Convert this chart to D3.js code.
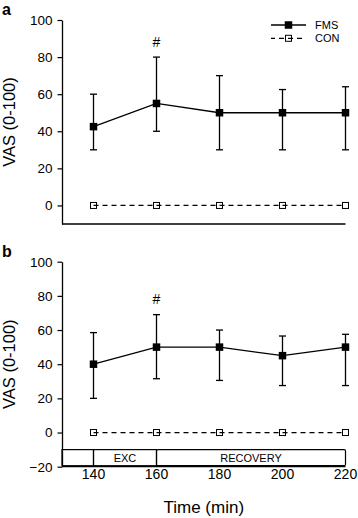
<!DOCTYPE html>
<html>
<head>
<meta charset="utf-8">
<script src="https://cdn.jsdelivr.net/npm/d3@7"></script>
<style>
  body { margin: 0; background: #fff; }
  svg { display: block; font-family: "Liberation Sans", Arial, sans-serif; }
</style>
</head>
<body>
<svg id="chart"></svg>
<script>
// Data
let times = [140, 160, 180, 200, 220];
let fmsA = [42.5, 55, 50, 50, 50];
let fmsALow = [30, 40, 30, 30, 30];
let fmsAHigh = [60, 80, 70, 62.5, 64];
let conA = [0, 0, 0, 0, 0];
let fmsB = [40, 50, 50, 45, 50];
let fmsBLow = [20, 31.5, 30.5, 27.5, 27.5];
let fmsBHigh = [58.5, 69, 60, 56.5, 57.5];
let conB = [0, 0, 0, 0, 0];
let xTicks = [140, 160, 180, 200, 220];
let phases = [{name: "", from: 130, to: 140}, {name: "EXC", from: 140, to: 160}, {name: "RECOVERY", from: 160, to: 220}];

let width = 358, height = 518;
let svg = d3.select("#chart").attr("width", width).attr("height", height);

let xax = d3.scaleLinear().domain([130, 220]).range([62, 345.5]);

function drawPanel(label, yax, yTicks, fms, lo, hi, con, labelY, hashY) {
  let g = svg.append("g");
  let y0 = yax.range()[0], y1 = yax.range()[1];

  // y axis
  g.append("g")
    .attr("transform", `translate(${xax.range()[0]}, 0)`)
    .call(d3.axisLeft(yax).tickValues(yTicks).tickSize(4.5).tickPadding(5).tickSizeOuter(0))
    .call(a => a.select(".domain").attr("stroke-width", 1.3))
    .call(a => a.selectAll(".tick line").attr("stroke-width", 1.2))
    .call(a => a.selectAll("text").attr("font-size", 13.5).attr("fill", "#000")
      .attr("font-family", "Liberation Sans, Arial, sans-serif"));

  // x axis line
  g.append("line")
    .attr("x1", xax.range()[0]).attr("x2", xax.range()[1])
    .attr("y1", y0).attr("y2", y0)
    .attr("stroke", "#000").attr("stroke-width", 1.3);

  // y axis title
  g.append("text")
    .attr("transform", "rotate(-90)")
    .attr("x", -(y0 + y1) / 2)
    .attr("y", 14.5)
    .attr("text-anchor", "middle")
    .attr("font-size", 16.5)
    .text("VAS (0-100)");

  // panel letter
  g.append("text")
    .attr("x", 2).attr("y", labelY)
    .attr("font-size", 16).attr("font-weight", "bold")
    .text(label);

  // CON dashed line
  let line = d3.line().x((d, i) => xax(times[i])).y(d => yax(d));
  g.append("path")
    .attr("d", line(con))
    .attr("fill", "none").attr("stroke", "#000")
    .attr("stroke-width", 1.3).attr("stroke-dasharray", "5,4");

  g.append("g").selectAll("rect")
    .data(con)
    .join("rect")
      .attr("x", (d, i) => xax(times[i]) - 3)
      .attr("y", d => yax(d) - 3)
      .attr("width", 6).attr("height", 6)
      .attr("fill", "none").attr("stroke", "#000").attr("stroke-width", 1);

  // FMS error bars
  let eb = g.append("g").attr("stroke", "#000").attr("stroke-width", 1.3);
  eb.selectAll("line.v")
    .data(fms)
    .join("line")
      .attr("class", "v")
      .attr("x1", (d, i) => xax(times[i])).attr("x2", (d, i) => xax(times[i]))
      .attr("y1", (d, i) => yax(lo[i])).attr("y2", (d, i) => yax(hi[i]));
  eb.selectAll("line.lo")
    .data(fms)
    .join("line")
      .attr("class", "lo")
      .attr("x1", (d, i) => xax(times[i]) - 3.5).attr("x2", (d, i) => xax(times[i]) + 3.5)
      .attr("y1", (d, i) => yax(lo[i])).attr("y2", (d, i) => yax(lo[i]));
  eb.selectAll("line.hi")
    .data(fms)
    .join("line")
      .attr("class", "hi")
      .attr("x1", (d, i) => xax(times[i]) - 3.5).attr("x2", (d, i) => xax(times[i]) + 3.5)
      .attr("y1", (d, i) => yax(hi[i])).attr("y2", (d, i) => yax(hi[i]));

  // FMS line + markers
  g.append("path")
    .attr("d", line(fms))
    .attr("fill", "none").attr("stroke", "#000").attr("stroke-width", 1.3);
  g.append("g").selectAll("rect")
    .data(fms)
    .join("rect")
      .attr("x", (d, i) => xax(times[i]) - 3.75)
      .attr("y", d => yax(d) - 3.75)
      .attr("width", 7.5).attr("height", 7.5)
      .attr("fill", "#000");

  // significance mark
  g.append("text")
    .attr("x", xax(160)).attr("y", hashY)
    .attr("text-anchor", "middle")
    .attr("font-size", 14)
    .text("#");

  return g;
}

// Panel a
let yA = d3.scaleLinear().domain([-10, 100]).range([224, 20]);
drawPanel("a", yA, [0, 20, 40, 60, 80, 100], fmsA, fmsALow, fmsAHigh, conA, 14.5, 46.5);

// legend
let leg = svg.append("g");
leg.append("line").attr("x1", 271).attr("x2", 306).attr("y1", 25).attr("y2", 25)
  .attr("stroke", "#000").attr("stroke-width", 1.3);
leg.append("rect").attr("x", 288.5 - 3.75).attr("y", 25 - 3.75).attr("width", 7.5).attr("height", 7.5).attr("fill", "#000");
leg.append("line").attr("x1", 271).attr("x2", 306).attr("y1", 38.3).attr("y2", 38.3)
  .attr("stroke", "#000").attr("stroke-width", 1.3).attr("stroke-dasharray", "5,4").attr("stroke-dashoffset", 1);
leg.append("rect").attr("x", 288.5 - 3).attr("y", 38.3 - 3).attr("width", 6).attr("height", 6)
  .attr("fill", "none").attr("stroke", "#000").attr("stroke-width", 1);
leg.append("text").attr("x", 315).attr("y", 29).attr("font-size", 11).text("FMS");
leg.append("text").attr("x", 315).attr("y", 42.3).attr("font-size", 11).text("CON");

// Panel b
let yB = d3.scaleLinear().domain([-20, 100]).range([466.7, 261.7]);
drawPanel("b", yB, [-20, 0, 20, 40, 60, 80, 100], fmsB, fmsBLow, fmsBHigh, conB, 257, 304);

// phase band
let band = svg.append("g");
band.selectAll("rect")
  .data(phases)
  .join("rect")
    .attr("x", d => xax(d.from))
    .attr("y", yB(-10))
    .attr("width", d => xax(d.to) - xax(d.from))
    .attr("height", yB(-20) - yB(-10) - 1)
    .attr("rx", d => d.name == "RECOVERY" ? 1.5 : 0)
    .attr("fill", "none").attr("stroke", "#000").attr("stroke-width", 1.2);
band.selectAll("text")
  .data(phases)
  .join("text")
    .attr("x", d => xax((d.from + d.to) / 2))
    .attr("y", yB(-15) + 4)
    .attr("text-anchor", "middle")
    .attr("font-size", 11)
    .text(d => d.name);

// x tick labels
svg.append("g").selectAll("text")
  .data(xTicks)
  .join("text")
    .attr("x", d => xax(d))
    .attr("y", 479)
    .attr("text-anchor", "middle")
    .attr("font-size", 14)
    .text(d => d);

svg.append("text")
  .attr("x", (xax.range()[0] + xax.range()[1]) / 2)
  .attr("y", 513)
  .attr("text-anchor", "middle")
  .attr("font-size", 17)
  .text("Time (min)");
</script>
</body>
</html>
